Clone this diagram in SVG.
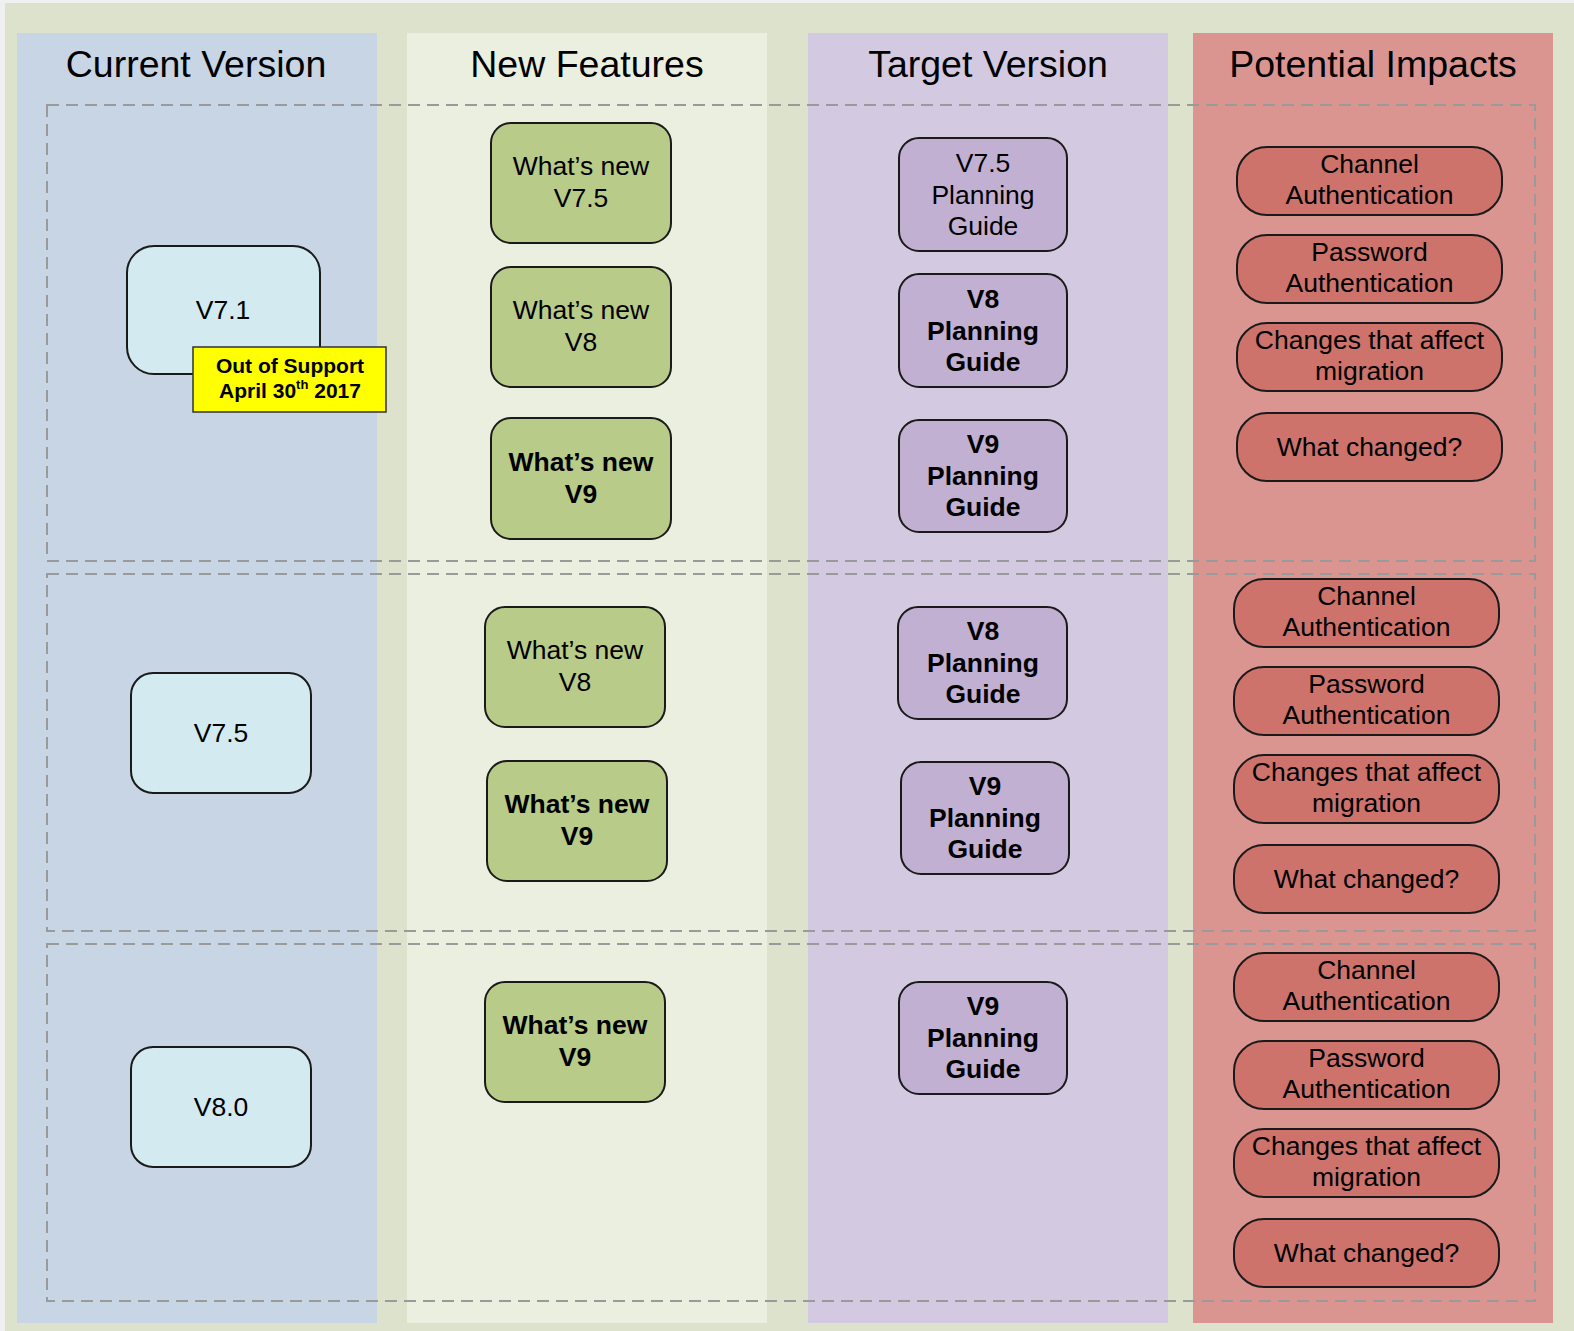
<svg xmlns="http://www.w3.org/2000/svg" width="1574" height="1331" viewBox="0 0 1574 1331">
<style>
text{font-family:"Liberation Sans",Arial,Helvetica,sans-serif;fill:#000;text-anchor:middle}
.hdr{font-size:37.5px}
.t{font-size:26.5px}
.b{font-weight:bold}
.node{stroke:#1a1a1a;stroke-width:2}
.blue{fill:#d2eaf0}
.green{fill:#b8cb88}
.purple{fill:#c2b0d3}
.red{fill:#cd736b}
.dash{fill:none;stroke:#9a9a9a;stroke-width:2;stroke-dasharray:12 7}
.yel{fill:#ffff00;stroke:#333;stroke-width:1.5}
.ys{font-size:21px;font-weight:bold}
</style>
<rect x="0" y="0" width="1574" height="1331" fill="#f0f0f0"/>
<rect x="5" y="3" width="1569" height="1328" fill="#dde2cc"/>
<g id="columns">
<rect x="17" y="33" width="360" height="1290" fill="#c8d5e5"/>
<rect x="407" y="33" width="360" height="1290" fill="#ebefdf"/>
<rect x="808" y="33" width="360" height="1290" fill="#d3c9e0"/>
<rect x="1193" y="33" width="360" height="1290" fill="#da9591"/>
<text class="hdr" x="196" y="77">Current Version</text>
<text class="hdr" x="587" y="77">New Features</text>
<text class="hdr" x="988" y="77">Target Version</text>
<text class="hdr" x="1373" y="77">Potential Impacts</text>
</g>
<g id="rows">
<rect class="dash" x="47" y="105" width="1488" height="456"/>
<rect class="dash" x="47" y="574" width="1488" height="357"/>
<rect class="dash" x="47" y="944" width="1488" height="357"/>
</g>
<g id="connectors"></g>
<!-- Current version -->
<g id="v71"><rect class="node blue" x="127" y="246" width="193" height="128" rx="27"/><text class="t" x="223" y="319">V7.1</text></g>
<g id="oos"><rect class="yel" x="193" y="347" width="193" height="65"/><text class="ys" x="290" y="373">Out of Support</text><text class="ys" x="290" y="398">April 30<tspan font-size="13" dy="-9">th</tspan><tspan dy="9"> 2017</tspan></text></g>
<g id="v75"><rect class="node blue" x="131" y="673" width="180" height="120" rx="22"/><text class="t" x="221" y="742">V7.5</text></g>
<g id="v80"><rect class="node blue" x="131" y="1047" width="180" height="120" rx="22"/><text class="t" x="221" y="1116">V8.0</text></g>
<!-- New features -->
<g id="nf1a"><rect class="node green" x="491" y="123" width="180" height="120" rx="20"/><text class="t" x="581" y="175">What’s new</text><text class="t" x="581" y="207">V7.5</text></g>
<g id="nf1b"><rect class="node green" x="491" y="267" width="180" height="120" rx="20"/><text class="t" x="581" y="319">What’s new</text><text class="t" x="581" y="351">V8</text></g>
<g id="nf1c"><rect class="node green" x="491" y="418" width="180" height="121" rx="20"/><text class="t b" x="581" y="471">What’s new</text><text class="t b" x="581" y="503">V9</text></g>
<g id="nf2a"><rect class="node green" x="485" y="607" width="180" height="120" rx="20"/><text class="t" x="575" y="659">What’s new</text><text class="t" x="575" y="691">V8</text></g>
<g id="nf2b"><rect class="node green" x="487" y="761" width="180" height="120" rx="20"/><text class="t b" x="577" y="813">What’s new</text><text class="t b" x="577" y="845">V9</text></g>
<g id="nf3a"><rect class="node green" x="485" y="982" width="180" height="120" rx="20"/><text class="t b" x="575" y="1034">What’s new</text><text class="t b" x="575" y="1066">V9</text></g>
<!-- Target version -->
<g id="tv1a"><rect class="node purple" x="899" y="138" width="168" height="113" rx="20"/><text class="t" x="983" y="172">V7.5</text><text class="t" x="983" y="203.5">Planning</text><text class="t" x="983" y="235">Guide</text></g>
<g id="tv1b"><rect class="node purple" x="899" y="274" width="168" height="113" rx="20"/><text class="t b" x="983" y="308">V8</text><text class="t b" x="983" y="339.5">Planning</text><text class="t b" x="983" y="371">Guide</text></g>
<g id="tv1c"><rect class="node purple" x="899" y="420" width="168" height="112" rx="20"/><text class="t b" x="983" y="453">V9</text><text class="t b" x="983" y="484.5">Planning</text><text class="t b" x="983" y="516">Guide</text></g>
<g id="tv2a"><rect class="node purple" x="898" y="607" width="169" height="112" rx="20"/><text class="t b" x="983" y="640">V8</text><text class="t b" x="983" y="671.5">Planning</text><text class="t b" x="983" y="703">Guide</text></g>
<g id="tv2b"><rect class="node purple" x="901" y="762" width="168" height="112" rx="20"/><text class="t b" x="985" y="795">V9</text><text class="t b" x="985" y="826.5">Planning</text><text class="t b" x="985" y="858">Guide</text></g>
<g id="tv3a"><rect class="node purple" x="899" y="982" width="168" height="112" rx="20"/><text class="t b" x="983" y="1015">V9</text><text class="t b" x="983" y="1046.5">Planning</text><text class="t b" x="983" y="1078">Guide</text></g>
<!-- Potential impacts row 1 -->
<g id="pi1a"><rect class="node red" x="1237" y="147" width="265" height="68" rx="30"/><text class="t" x="1369.5" y="173">Channel</text><text class="t" x="1369.5" y="204">Authentication</text></g>
<g id="pi1b"><rect class="node red" x="1237" y="235" width="265" height="68" rx="30"/><text class="t" x="1369.5" y="261">Password</text><text class="t" x="1369.5" y="292">Authentication</text></g>
<g id="pi1c"><rect class="node red" x="1237" y="323" width="265" height="68" rx="30"/><text class="t" x="1369.5" y="349">Changes that affect</text><text class="t" x="1369.5" y="380">migration</text></g>
<g id="pi1d"><rect class="node red" x="1237" y="413" width="265" height="68" rx="30"/><text class="t" x="1369.5" y="456">What changed?</text></g>
<!-- row 2 -->
<g id="pi2a"><rect class="node red" x="1234" y="579" width="265" height="68" rx="30"/><text class="t" x="1366.5" y="605">Channel</text><text class="t" x="1366.5" y="636">Authentication</text></g>
<g id="pi2b"><rect class="node red" x="1234" y="667" width="265" height="68" rx="30"/><text class="t" x="1366.5" y="693">Password</text><text class="t" x="1366.5" y="724">Authentication</text></g>
<g id="pi2c"><rect class="node red" x="1234" y="755" width="265" height="68" rx="30"/><text class="t" x="1366.5" y="781">Changes that affect</text><text class="t" x="1366.5" y="812">migration</text></g>
<g id="pi2d"><rect class="node red" x="1234" y="845" width="265" height="68" rx="30"/><text class="t" x="1366.5" y="888">What changed?</text></g>
<!-- row 3 -->
<g id="pi3a"><rect class="node red" x="1234" y="953" width="265" height="68" rx="30"/><text class="t" x="1366.5" y="979">Channel</text><text class="t" x="1366.5" y="1010">Authentication</text></g>
<g id="pi3b"><rect class="node red" x="1234" y="1041" width="265" height="68" rx="30"/><text class="t" x="1366.5" y="1067">Password</text><text class="t" x="1366.5" y="1098">Authentication</text></g>
<g id="pi3c"><rect class="node red" x="1234" y="1129" width="265" height="68" rx="30"/><text class="t" x="1366.5" y="1155">Changes that affect</text><text class="t" x="1366.5" y="1186">migration</text></g>
<g id="pi3d"><rect class="node red" x="1234" y="1219" width="265" height="68" rx="30"/><text class="t" x="1366.5" y="1262">What changed?</text></g>
</svg>
